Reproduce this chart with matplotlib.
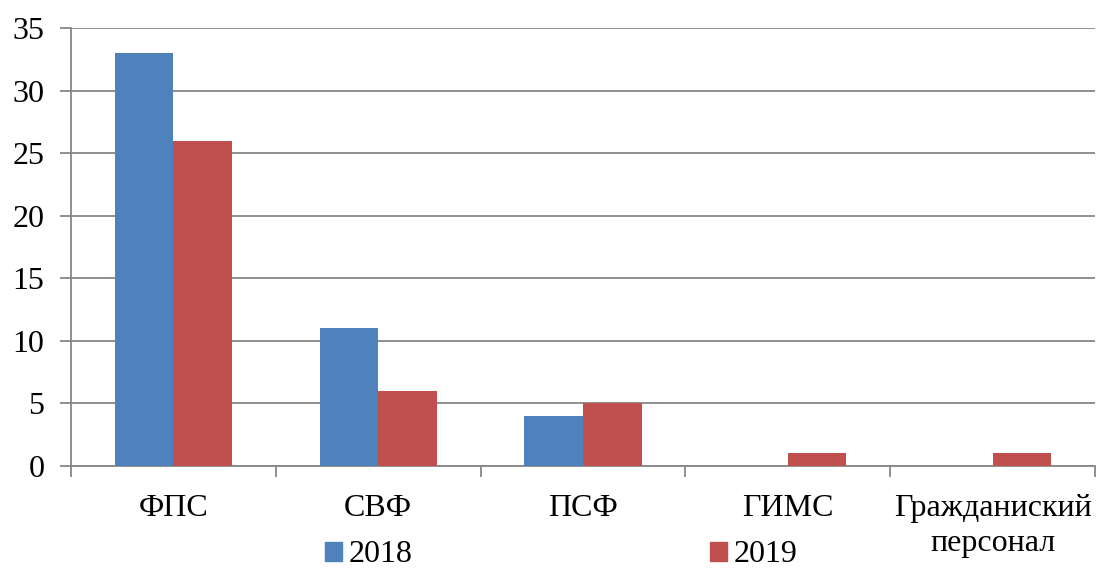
import matplotlib.pyplot as plt
import numpy as np
from matplotlib.patches import Patch

categories = ['ФПС', 'СВФ', 'ПСФ', 'ГИМС', 'Гражданиский\nперсонал']
values_2018 = [33, 11, 4, 0, 0]
values_2019 = [26, 6, 5, 1, 1]
series_names = ['2018', '2019']

plt.rcParams['font.family'] = ['Liberation Serif', 'DejaVu Serif']
plt.rcParams['font.size'] = 23

blue = '#4F81BD'
red = '#C0504D'
grid_col = '#878787'

fig = plt.figure(figsize=(10.96, 5.69), dpi=100)
ax = fig.add_axes([71 / 1096, 1 - 466 / 569, 1024 / 1096, 438 / 569])

x = np.arange(len(categories))
w = 0.286
ax.bar(x - w / 2, values_2018, w, color=blue, zorder=3)
ax.bar(x + w / 2, values_2019, w, color=red, zorder=3)

ax.set_xlim(-0.5, len(categories) - 0.5)
ax.set_ylim(0, 35)
ax.set_yticks(np.arange(0, 36, 5))
ax.yaxis.grid(True, color=grid_col, linewidth=1.3, zorder=0)
ax.tick_params(axis='y', length=8, width=1.3, color=grid_col, pad=11)

ax.set_xticks(x)
ax.set_xticklabels(categories, linespacing=1.3)
ax.set_xticks(np.arange(-0.5, len(categories), 1), minor=True)
ax.tick_params(axis='x', which='major', length=0, pad=20)
ax.tick_params(axis='x', which='minor', length=8, width=1.3, color=grid_col)

for s in ['top', 'right']:
    ax.spines[s].set_visible(False)
for s in ['left', 'bottom']:
    ax.spines[s].set_color(grid_col)
    ax.spines[s].set_linewidth(1.3)

handles = [Patch(color=blue), Patch(color=red)]
fig.legend(handles, series_names, loc='center', bbox_to_anchor=(561 / 1096, 1 - 555 / 569),
           ncol=2, frameon=False, handlelength=0.55, handleheight=0.55,
           handletextpad=0.2, columnspacing=9.3, borderaxespad=0, borderpad=0)

fig.savefig('out.png', dpi=100)
